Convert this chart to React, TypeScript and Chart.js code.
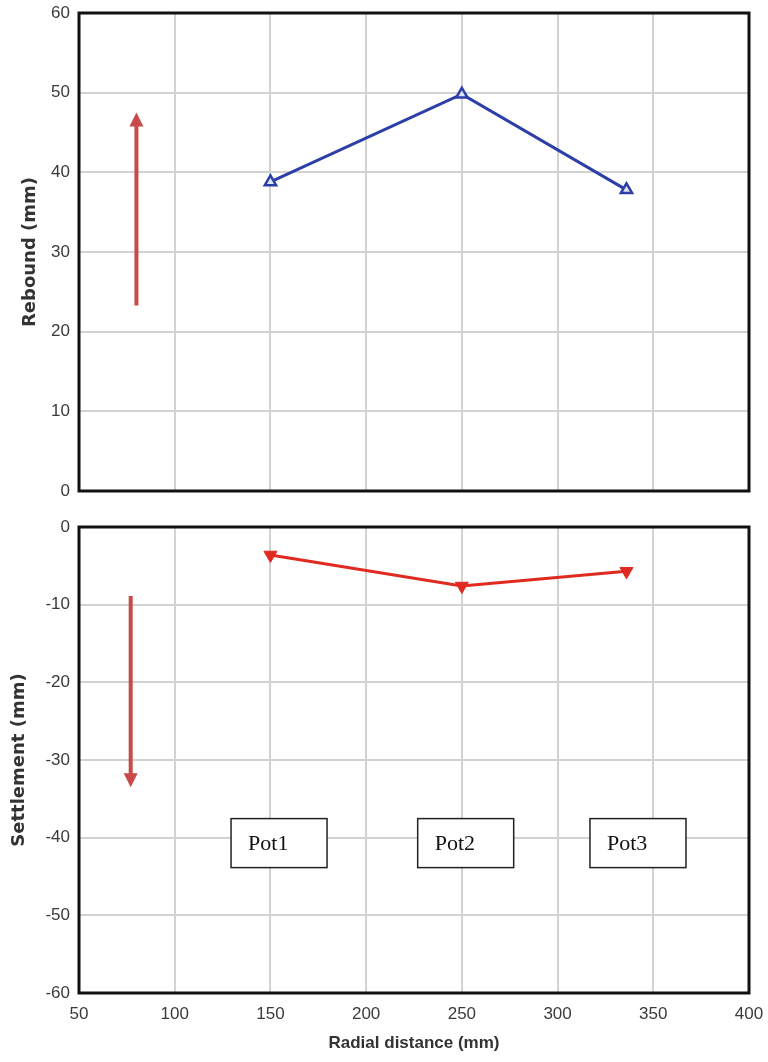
import React, { useEffect, useRef } from "react";
import { Chart, registerables } from "chart.js";

Chart.register(...registerables);

const radialX = [150, 250, 336];
const reboundY = [38.8, 49.8, 37.8];
const settlementY = [-3.6, -7.6, -5.7];
const xTicks = [50, 100, 150, 200, 250, 300, 350, 400];
const reboundTicks = [0, 10, 20, 30, 40, 50, 60];
const settlementTicks = [-60, -50, -40, -30, -20, -10, 0];
const potLabels = ["Pot1", "Pot2", "Pot3"];
const potX = [154.5, 252, 342];
const potY = -40.7;
const upArrow = { x: 80, from: 23.3, to: 47.5 };
const downArrow = { x: 77, from: -8.9, to: -33.5 };

const ARROW_COLOR = "#c84a4a";
const Y_TICK_FONT = { family: "Liberation Sans, Arial, sans-serif", size: 17 };
const X_TICK_FONT = { family: "'Liberation Sans Narrow', 'Arial Narrow', 'Liberation Sans', sans-serif", size: 17 };
const Y_TITLE_FONT = { family: "'DejaVu Sans', Verdana, sans-serif", size: 18, weight: "bold" as const };
const X_TITLE_FONT = { family: "Liberation Sans, Arial, sans-serif", size: 17, weight: "bold" as const };

function drawArrow(chart: any, a: { x: number; from: number; to: number }) {
  const { ctx, scales } = chart;
  const px = scales.x.getPixelForValue(a.x);
  const y0 = scales.y.getPixelForValue(a.from);
  const y1 = scales.y.getPixelForValue(a.to);
  const dir = y1 < y0 ? -1 : 1;
  const head = 14;
  ctx.save();
  ctx.strokeStyle = ARROW_COLOR;
  ctx.fillStyle = ARROW_COLOR;
  ctx.lineWidth = 4;
  ctx.beginPath();
  ctx.moveTo(px, y0);
  ctx.lineTo(px, y1 - dir * head * 0.8);
  ctx.stroke();
  ctx.beginPath();
  ctx.moveTo(px, y1);
  ctx.lineTo(px - 7, y1 - dir * head);
  ctx.lineTo(px + 7, y1 - dir * head);
  ctx.closePath();
  ctx.fill();
  ctx.restore();
}

const framePlugin = {
  id: "frame",
  afterDraw(chart: any) {
    const { ctx, chartArea: a } = chart;
    ctx.save();
    ctx.strokeStyle = "#111";
    ctx.lineWidth = 3;
    ctx.strokeRect(a.left, a.top, a.right - a.left, a.bottom - a.top);
    ctx.restore();
  },
};

function makeOptions(
  yMin: number,
  yMax: number,
  yTicks: number[],
  yTitle: string,
  titlePad: number,
  showX: boolean,
  padTop: number,
  xHeight: number
) {
  return {
    responsive: false,
    animation: false,
    maintainAspectRatio: false,
    layout: { padding: { top: padTop, right: 19, left: 0, bottom: 0 } },
    plugins: { legend: { display: false }, tooltip: { enabled: false } },
    scales: {
      x: {
        type: "linear",
        min: 50,
        max: 400,
        afterBuildTicks: (s: any) => {
          s.ticks = xTicks.map((v) => ({ value: v }));
        },
        afterFit: (s: any) => {
          s.height = xHeight;
          s.paddingLeft = 0;
          s.paddingRight = 0;
        },
        grid: { color: "#d2d2d2", lineWidth: 2, drawTicks: false },
        border: { display: false },
        ticks: { display: showX, color: "#3a3a3a", font: X_TICK_FONT, padding: 11, maxRotation: 0 },
        title: {
          display: showX,
          text: "Radial distance (mm)",
          color: "#333",
          font: X_TITLE_FONT,
          padding: { top: 2, bottom: 8 },
        },
      },
      y: {
        type: "linear",
        min: yMin,
        max: yMax,
        afterBuildTicks: (s: any) => {
          s.ticks = yTicks.map((v) => ({ value: v }));
        },
        afterFit: (s: any) => {
          s.width = 79;
          s.paddingTop = 0;
          s.paddingBottom = 0;
        },
        grid: { color: "#d2d2d2", lineWidth: 2, drawTicks: false },
        border: { display: false },
        ticks: { color: "#3a3a3a", font: Y_TICK_FONT, padding: 9 },
        title: { display: true, text: yTitle, color: "#333", font: Y_TITLE_FONT, padding: { top: titlePad, bottom: 0 } },
      },
    },
  } as any;
}

export default function App() {
  const topRef = useRef<HTMLCanvasElement>(null);
  const botRef = useRef<HTMLCanvasElement>(null);

  useEffect(() => {
    const topArrowPlugin = {
      id: "topArrow",
      afterDatasetsDraw(chart: any) {
        drawArrow(chart, upArrow);
      },
    };
    const botPlugin = {
      id: "botAnn",
      afterDatasetsDraw(chart: any) {
        drawArrow(chart, downArrow);
        const { ctx, scales } = chart;
        ctx.save();
        potLabels.forEach((lab, i) => {
          const cx = scales.x.getPixelForValue(potX[i]);
          const cy = scales.y.getPixelForValue(potY);
          const w = 96;
          const h = 49;
          ctx.fillStyle = "#fff";
          ctx.fillRect(cx - w / 2, cy - h / 2, w, h);
          ctx.strokeStyle = "#222";
          ctx.lineWidth = 1.5;
          ctx.strokeRect(cx - w / 2, cy - h / 2, w, h);
          ctx.fillStyle = "#111";
          ctx.font = "22px 'Liberation Serif', 'Times New Roman', serif";
          ctx.textBaseline = "middle";
          ctx.textAlign = "left";
          ctx.fillText(lab, cx - w / 2 + 17, cy + 1);
        });
        ctx.restore();
      },
    };

    const top = new Chart(topRef.current!, {
      type: "line",
      data: {
        datasets: [
          {
            data: radialX.map((x, i) => ({ x, y: reboundY[i] })),
            borderColor: "#2d3fa6",
            backgroundColor: "#dfe3f5",
            borderWidth: 3,
            pointStyle: "triangle",
            pointRadius: 6.5,
            pointBorderWidth: 2.5,
            pointBorderColor: "#2d3fa6",
          },
        ],
      },
      options: makeOptions(0, 60, reboundTicks, "Rebound (mm)", 20, false, 13, 14),
      plugins: [topArrowPlugin, framePlugin],
    });

    const bot = new Chart(botRef.current!, {
      type: "line",
      data: {
        datasets: [
          {
            data: radialX.map((x, i) => ({ x, y: settlementY[i] })),
            borderColor: "#e02a20",
            backgroundColor: "#e02a20",
            borderWidth: 3,
            pointStyle: "triangle",
            rotation: 180,
            pointRadius: 7.5,
            pointBorderWidth: 1,
            pointBorderColor: "#e02a20",
          },
        ],
      },
      options: makeOptions(-60, 0, settlementTicks, "Settlement (mm)", 9, true, 22, 69),
      plugins: [botPlugin, framePlugin],
    });

    return () => {
      top.destroy();
      bot.destroy();
    };
  }, []);

  return (
    <div style={{ position: "fixed", left: 0, top: 0, width: 768, height: 1062, background: "#fff" }}>
      <canvas ref={topRef} width={768} height={505} style={{ position: "absolute", left: 0, top: 0 }} />
      <canvas ref={botRef} width={768} height={557} style={{ position: "absolute", left: 0, top: 505 }} />
    </div>
  );
}
